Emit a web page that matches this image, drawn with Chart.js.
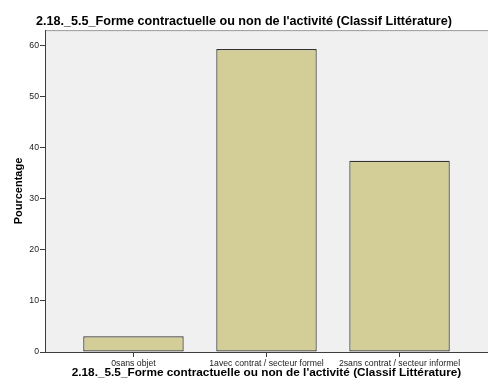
<!DOCTYPE html>
<html>
<head>
<meta charset="utf-8">
<script src="https://cdn.jsdelivr.net/npm/chart.js@4"></script>
<style>
    html, body { margin: 0; padding: 0; background: #fff; }
    #wrap { width: 488px; height: 388px; }
</style>
</head>
<body>
<div id="wrap"><canvas id="barChart" width="488" height="388"></canvas></div>
<script>
const categories = ['0sans objet', '1avec contrat / secteur formel', '2sans contrat / secteur informel'];
const percentages = [3.1, 59.4, 37.5];
const yTicks = [0, 10, 20, 30, 40, 50, 60];

const variableName = "2.18._5.5_Forme contractuelle ou non de l'activité (Classif Littérature)";
const FONT = 'Arial, "Liberation Sans", sans-serif';

// grey plot background plus the thin frame line along the top
const plotFrame = {
    id: 'plotFrame',
    beforeDraw(chart) {
        const { ctx, chartArea: a } = chart;
        ctx.save();
        ctx.fillStyle = '#f0f0f0';
        ctx.fillRect(a.left, a.top, a.right - a.left, a.bottom - a.top);
        ctx.strokeStyle = '#9c9c9c';
        ctx.lineWidth = 1;
        ctx.beginPath();
        ctx.moveTo(a.left, a.top + 0.5);
        ctx.lineTo(a.right, a.top + 0.5);
        ctx.stroke();
        ctx.restore();
    }
};

const ctx = document.getElementById('barChart').getContext('2d');

new Chart(ctx, {
    type: 'bar',
    data: {
        datasets: [{
            label: 'Pourcentage',
            data: percentages.map((v, i) => ({ x: i, y: v })),
            backgroundColor: '#d3ce97',
            borderColor: '#333333',
            borderWidth: 1.2,
            borderSkipped: false,
            barPercentage: 0.755,
            categoryPercentage: 1
        }]
    },
    options: {
        responsive: false,
        animation: false,
        devicePixelRatio: 1,
        layout: { padding: { top: 0, right: 0, bottom: 0, left: 0 } },
        plugins: {
            legend: { display: false },
            tooltip: { enabled: false },
            title: {
                display: true,
                text: variableName,
                color: '#000',
                font: { family: FONT, size: 12.6, weight: 'bold' },
                padding: { top: 14, bottom: 1 }
            }
        },
        scales: {
            x: {
                type: 'linear',
                offset: false,
                min: -0.665,
                max: 2.665,
                afterBuildTicks(scale) {
                    scale.ticks = categories.map((_, i) => ({ value: i }));
                },
                afterFit(scale) { scale.height = 36; },
                ticks: {
                    callback: (v) => categories[v],
                    color: '#222',
                    font: { family: FONT, size: 8.7 },
                    padding: 1,
                    maxRotation: 0,
                    autoSkip: false
                },
                grid: {
                    offset: false,
                    drawOnChartArea: false,
                    drawTicks: true,
                    tickLength: 5,
                    color: '#3c3c3c'
                },
                border: { display: true, color: '#3c3c3c', width: 1 },
                title: {
                    display: true,
                    text: variableName,
                    color: '#000',
                    font: { family: FONT, size: 11.8, weight: 'bold' },
                    padding: { top: 0, bottom: 8 }
                }
            },
            y: {
                min: 0,
                max: 63.1,
                afterBuildTicks(scale) {
                    scale.ticks = yTicks.map(v => ({ value: v }));
                },
                afterFit(scale) { scale.width = 45; },
                ticks: {
                    color: '#222',
                    font: { family: FONT, size: 8.7 },
                    padding: 1
                },
                grid: {
                    drawOnChartArea: false,
                    drawTicks: true,
                    tickLength: 5,
                    color: '#3c3c3c'
                },
                border: { display: true, color: '#3c3c3c', width: 1 },
                title: {
                    display: true,
                    text: 'Pourcentage',
                    color: '#000',
                    font: { family: FONT, size: 11, weight: 'bold' },
                    padding: { top: 12, bottom: 0 }
                }
            }
        }
    },
    plugins: [plotFrame]
});
</script>
</body>
</html>
